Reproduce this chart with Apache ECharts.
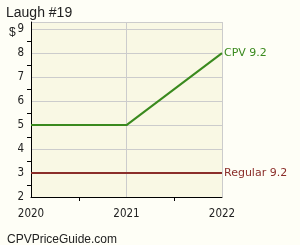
<!DOCTYPE html>
<html><head><meta charset="utf-8">
<script src="https://cdn.jsdelivr.net/npm/echarts@6/dist/echarts.min.js"></script>
<style>html,body{margin:0;padding:0;background:#fefef6;}#c{width:300px;height:245px;}</style>
</head><body><div id="c"></div>
<script>
const title = "Laugh #19";
const years = [2020, 2021, 2022];
const cpvValues = [5, 5, 8];
const regularValues = [3, 3, 3];
const cpvLabel = "CPV 9.2";
const regularLabel = "Regular 9.2";
const footer = "CPVPriceGuide.com";

const chart = echarts.init(document.getElementById('c'), null, {renderer: 'canvas'});
const lab = {fontFamily: 'DejaVu Sans Condensed, DejaVu Sans', fontSize: 11.5, color: '#222'};
chart.setOption({
  backgroundColor: '#fefef6',
  animation: false,
  title: [
    {text: title, left: 1, top: 1, textStyle: {fontFamily: 'Liberation Sans', fontSize: 14, fontWeight: 'normal', color: '#222'}},
    {text: '$', left: 4, top: 22, textStyle: {fontFamily: 'Liberation Sans', fontSize: 12, fontWeight: 'normal', color: '#222'}},
    {text: footer, left: 2, top: 229, textStyle: {fontFamily: 'Liberation Sans', fontSize: 12, fontWeight: 'normal', color: '#222'}}
  ],
  grid: {left: 31, right: 78, top: 22, bottom: 48, show: true, backgroundColor: '#f9f8e4', borderWidth: 0},
  xAxis: {
    type: 'value', min: 2020, max: 2022, interval: 1,
    axisLine: {show: true, onZero: false, lineStyle: {color: '#000', width: 1}},
    axisTick: {show: false},
    minorTick: {show: true, splitNumber: 2, length: 4, lineStyle: {color: '#000'}},
    splitLine: {show: true, lineStyle: {color: '#cccccc'}},
    axisLabel: Object.assign({margin: 11, formatter: v => String(v)}, lab)
  },
  yAxis: {
    type: 'value', min: 2, max: 9.3, interval: 1,
    axisLine: {show: true, lineStyle: {color: '#000', width: 1}},
    axisTick: {show: false},
    minorTick: {show: true, splitNumber: 2, length: 4, lineStyle: {color: '#000'}},
    splitLine: {show: true, lineStyle: {color: '#cccccc'}},
    axisLabel: Object.assign({margin: 7, showMaxLabel: false, formatter: v => (Number.isInteger(v) ? String(v) : '')}, lab)
  },
  series: [
    {type: 'line', data: years.map((y, i) => [y, cpvValues[i]]), symbol: 'none',
     lineStyle: {color: '#3a8a1e', width: 2}, color: '#3a8a1e',
     endLabel: {show: true, formatter: cpvLabel, color: '#3a8a1e', fontFamily: 'DejaVu Sans', fontSize: 11, distance: 2}},
    {type: 'line', data: years.map((y, i) => [y, regularValues[i]]), symbol: 'none',
     lineStyle: {color: '#8b2e2a', width: 2}, color: '#8b2e2a',
     endLabel: {show: true, formatter: regularLabel, color: '#8b2e2a', fontFamily: 'DejaVu Sans', fontSize: 11, distance: 2}}
  ]
});
</script></body></html>
